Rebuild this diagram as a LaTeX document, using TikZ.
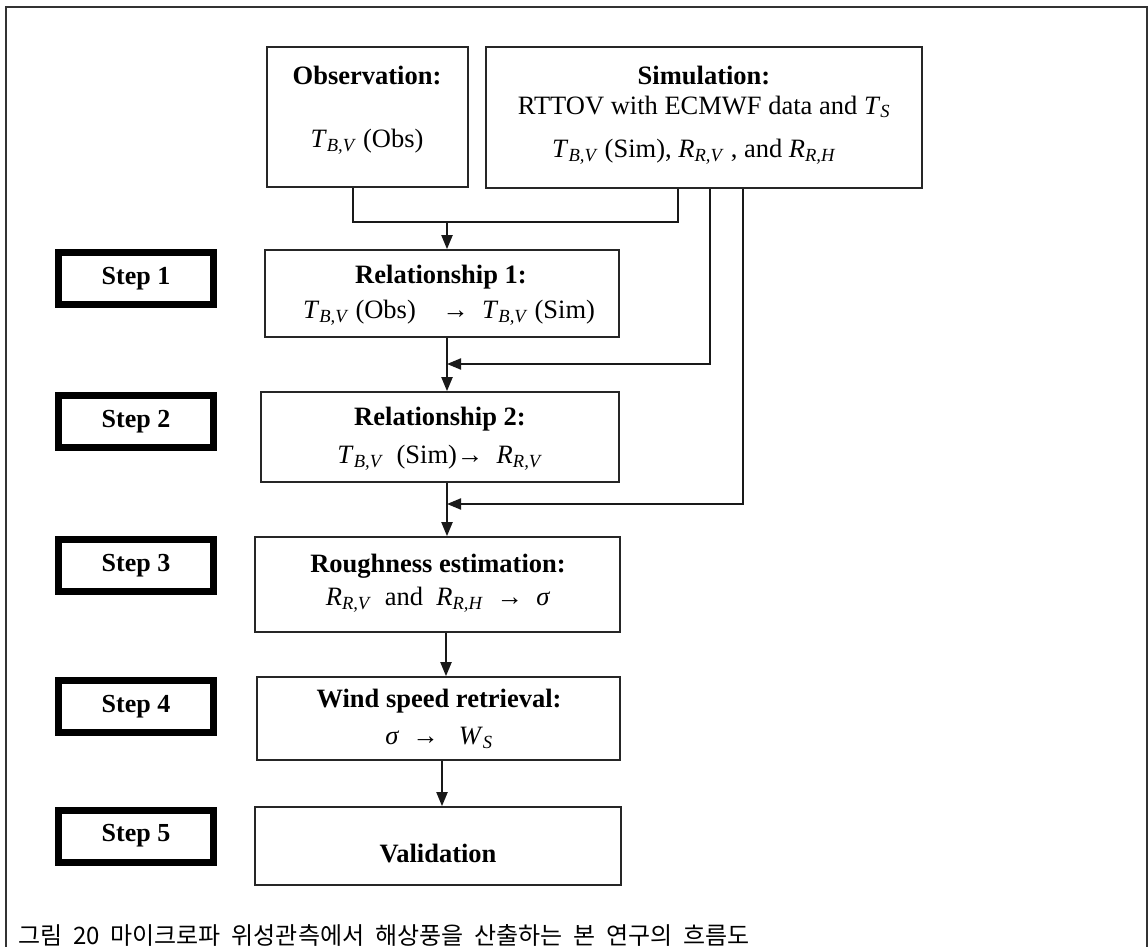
\documentclass[tikz,border=0pt]{standalone}
\usepackage{fontspec}
\setmainfont{Liberation Serif}
\newfontfamily\kr{Noto Sans CJK KR}
\usetikzlibrary{arrows.meta}
\newcommand{\sv}[2]{\textit{#1}\textsubscript{\textit{#2}}}
\newcommand{\ks}{\hspace{0.45em}}
\begin{document}
\begin{tikzpicture}[x=1pt,y=-1pt,
  box/.style={draw=black!85,line width=1.7pt,inner sep=0pt,fill=white},
  stepbox/.style={draw=black,line width=7pt,inner sep=0pt,minimum width=155pt,minimum height=52pt,
    font=\fontsize{26}{30}\selectfont\bfseries},
  ttl/.style={inner sep=0pt,font=\fontsize{26.5}{30}\selectfont\bfseries},
  txt/.style={inner sep=0pt,font=\fontsize{26.5}{30}\selectfont},
  conn/.style={draw=black!90,line width=2pt},
  arr/.style={conn,-{Triangle[length=14pt,width=11pt]}}]
\useasboundingbox (0,0) rectangle (1148,947);
% outer frame
\draw[line width=2pt,draw=black!80] (6,948) -- (6,7) -- (1147,7) -- (1147,948);
% top boxes
\node[box,minimum width=201pt,minimum height=140pt] (obs) at (367.5,117) {};
\node[box,minimum width=436pt,minimum height=141pt] (sim) at (704,117.5) {};
\node[ttl] (obsT) at (367,75) {Observation:};
\node[txt] (obsV) at (367,142) {\sv{T}{B,V} (Obs)};
\node[ttl] (simT) at (704,75) {Simulation:};
\node[txt] (simL) at (704,107) {RTTOV with ECMWF data and \sv{T}{S}};
\node[txt] (simV) at (694,152) {\sv{T}{B,V} (Sim), \sv{R}{R,V} , and \sv{R}{R,H}};
% main column
\node[box,minimum width=354pt,minimum height=87pt] (rel1) at (442,293.5) {};
\node[ttl] (rel1T) at (441,277) {Relationship 1:};
\node[txt] (rel1V) at (449,313) {\sv{T}{B,V} (Obs)\quad →\ \ \sv{T}{B,V} (Sim)};
\node[box,minimum width=358pt,minimum height=90pt] (rel2) at (440,437) {};
\node[ttl] (rel2T) at (440,419) {Relationship 2:};
\node[txt] (rel2V) at (440,458) {\sv{T}{B,V} \ (Sim)→\ \ \sv{R}{R,V}};
\node[box,minimum width=365pt,minimum height=95pt] (rough) at (437.5,584.5) {};
\node[ttl] (roughT) at (438,566) {Roughness estimation:};
\node[txt] (roughV) at (438,600) {\sv{R}{R,V}\ \ and\ \ \sv{R}{R,H}\ \ →\ \ \textit{σ}};
\node[box,minimum width=363pt,minimum height=83pt] (wind) at (438.5,718.5) {};
\node[ttl] (windT) at (439,701) {Wind speed retrieval:};
\node[txt] (windV) at (439,738) {\textit{σ}\ \ →\ \ \ \sv{W}{S}};
\node[box,minimum width=366pt,minimum height=78pt] (val) at (438,846) {};
\node[ttl] (valT) at (438,853) {Validation};
% step boxes
\node[stepbox] (s1) at (136,278.5) {Step 1};
\node[stepbox] (s2) at (136,421.5) {Step 2};
\node[stepbox] (s3) at (136,565.5) {Step 3};
\node[stepbox] (s4) at (136,706.5) {Step 4};
\node[stepbox] (s5) at (136,836) {Step 5};
% connectors
\coordinate (jo) at (353,222);
\coordinate (js) at (678,222);
\coordinate (jm) at (447,222);
\draw[conn] (obs.south -| jo) -- (jo) -- (js) -- (sim.south -| js);
\draw[arr] (jm) -- (rel1.north -| jm);
\coordinate (c2) at (710,364);
\coordinate (t2) at (447,364);
\draw[arr] (sim.south -| c2) -- (c2) -- (t2);
\draw[arr] (rel1.south -| t2) -- (rel2.north -| t2);
\coordinate (c3) at (743,504);
\coordinate (t3) at (447,504);
\draw[arr] (sim.south -| c3) -- (c3) -- (t3);
\draw[arr] (rel2.south -| t3) -- (rough.north -| t3);
\coordinate (a4) at (446,650);
\draw[arr] (rough.south -| a4) -- (wind.north -| a4);
\coordinate (a5) at (442,780);
\draw[arr] (wind.south -| a5) -- (val.north -| a5);
% caption
\node[anchor=west,inner sep=0pt,font=\kr\fontsize{24}{28}\selectfont] (cap) at (18,935) {그림\ks 20\ks 마이크로파\ks 위성관측에서\ks 해상풍을\ks 산출하는\ks 본\ks 연구의\ks 흐름도};
\end{tikzpicture}
\end{document}
